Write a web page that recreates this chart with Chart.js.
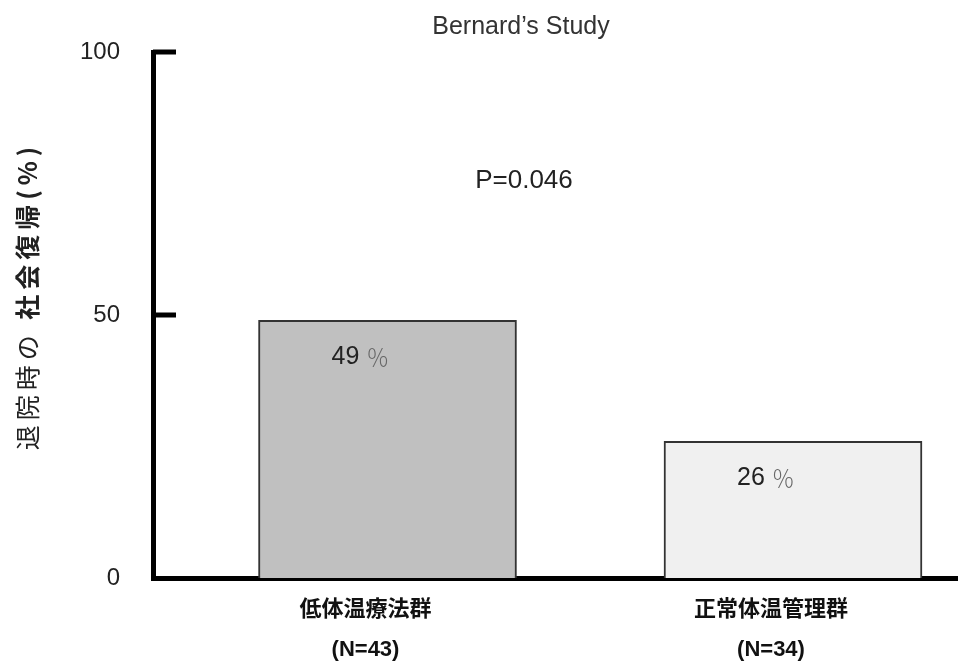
<!DOCTYPE html>
<html><head><meta charset="utf-8">
<script src="https://cdn.jsdelivr.net/npm/chart.js@4"></script>
<style>html,body{margin:0;padding:0;background:#fff;overflow:hidden}</style>
</head><body>
<canvas id="c" width="958" height="670"></canvas>
<script>
const categories = ['低体温療法群', '正常体温管理群'];
const sampleSizes = ['(N=43)', '(N=34)'];
const values = [49, 26];
const yTicks = [0, 50, 100];
const titleText = 'Bernard’s Study';
const pValueText = 'P=0.046';
const yTitleParts = ['退院時の ', '社会復帰(%)'];
const barColors = ['#c0c0c0', '#f0f0f0'];

const overlay = {
  id: 'overlay',
  afterDraw(chart) {
    const ctx = chart.ctx, xs = chart.scales.x, ys = chart.scales.y, ca = chart.chartArea;
    ctx.save();
    // inner tick marks
    ctx.strokeStyle = '#000'; ctx.lineWidth = 5; ctx.lineCap = 'butt';
    yTicks.filter(v => v > 0).forEach(v => {
      const y = ys.getPixelForValue(v);
      ctx.beginPath(); ctx.moveTo(ca.left, y); ctx.lineTo(ca.left + 23, y); ctx.stroke();
    });
    // title
    ctx.fillStyle = '#333'; ctx.textAlign = 'center'; ctx.textBaseline = 'middle';
    ctx.font = '25px "Liberation Sans", Arial, sans-serif';
    ctx.fillText(titleText, 521, 27);
    // p value
    ctx.fillStyle = '#222';
    ctx.font = '26px "Liberation Sans", Arial, sans-serif';
    ctx.fillText(pValueText, xs.getPixelForValue(0.3366), ys.getPixelForValue(75.5));
    // bar value labels
    const meta = chart.getDatasetMeta(0);
    meta.data.forEach((bar, i) => {
      const x0 = bar.x - 56, y0 = bar.y + 37;
      ctx.textAlign = 'left';
      ctx.fillStyle = '#222';
      ctx.font = '25px "Liberation Sans", Arial, sans-serif';
      const s = String(values[i]);
      ctx.fillText(s, x0, y0);
      const w = ctx.measureText(s + ' ').width;
      ctx.fillStyle = '#666';
      ctx.font = '300 23px "Noto Sans CJK JP", sans-serif';
      ctx.fillText('％', x0 + w, y0);
    });
    // y title
    ctx.translate(27, 296);
    ctx.rotate(-Math.PI / 2);
    ctx.fillStyle = '#222';
    ctx.letterSpacing = '5px';
    const f1 = '25px "Noto Sans CJK JP", sans-serif';
    const f2 = 'bold 25px "Noto Sans CJK JP", sans-serif';
    ctx.font = f1; const w1 = ctx.measureText(yTitleParts[0]).width;
    ctx.font = f2; const w2 = ctx.measureText(yTitleParts[1]).width;
    let sx = -(w1 + w2) / 2;
    ctx.textAlign = 'left';
    ctx.font = f1; ctx.fillText(yTitleParts[0], sx, 0);
    ctx.font = f2; ctx.fillText(yTitleParts[1], sx + w1, 0);
    ctx.restore();
  }
};

new Chart(document.getElementById('c'), {
  type: 'bar',
  data: {
    datasets: [{
      data: values.map((v, i) => ({ x: i, y: v })),
      backgroundColor: barColors,
      borderColor: '#333',
      borderWidth: 2,
      barThickness: 258
    }]
  },
  options: {
    responsive: false,
    animation: false,
    layout: { padding: { top: 52, right: 0, bottom: 0, left: 0 } },
    plugins: { legend: { display: false }, title: { display: false }, tooltip: { enabled: false } },
    scales: {
      x: {
        type: 'linear', min: -0.57829, max: 1.4069, offset: false,
        grid: { display: false, drawTicks: false, offset: false },
        border: { display: true, color: '#000', width: 5 },
        afterBuildTicks: s => { s.ticks = categories.map((c, i) => ({ value: i })); },
        ticks: {
          callback: v => [categories[v], sampleSizes[v]],
          font: { family: '"Liberation Sans", "Noto Sans CJK JP", sans-serif', size: 22, weight: 'bold', lineHeight: 1.82 },
          color: '#111', padding: 12, labelOffset: -22, autoSkip: false, maxRotation: 0
        },
        afterFit: s => { s.height = 92; }
      },
      y: {
        min: 0, max: 100,
        afterBuildTicks: s => { s.ticks = yTicks.map(v => ({ value: v })); },
        grid: { display: false, drawTicks: false },
        border: { display: true, color: '#000', width: 5 },
        ticks: { font: { family: '"Liberation Sans", Arial, sans-serif', size: 24 }, color: '#222', padding: 33 },
        afterFit: s => { s.width = 153; }
      }
    }
  },
  plugins: [overlay]
});
</script>
</body></html>
